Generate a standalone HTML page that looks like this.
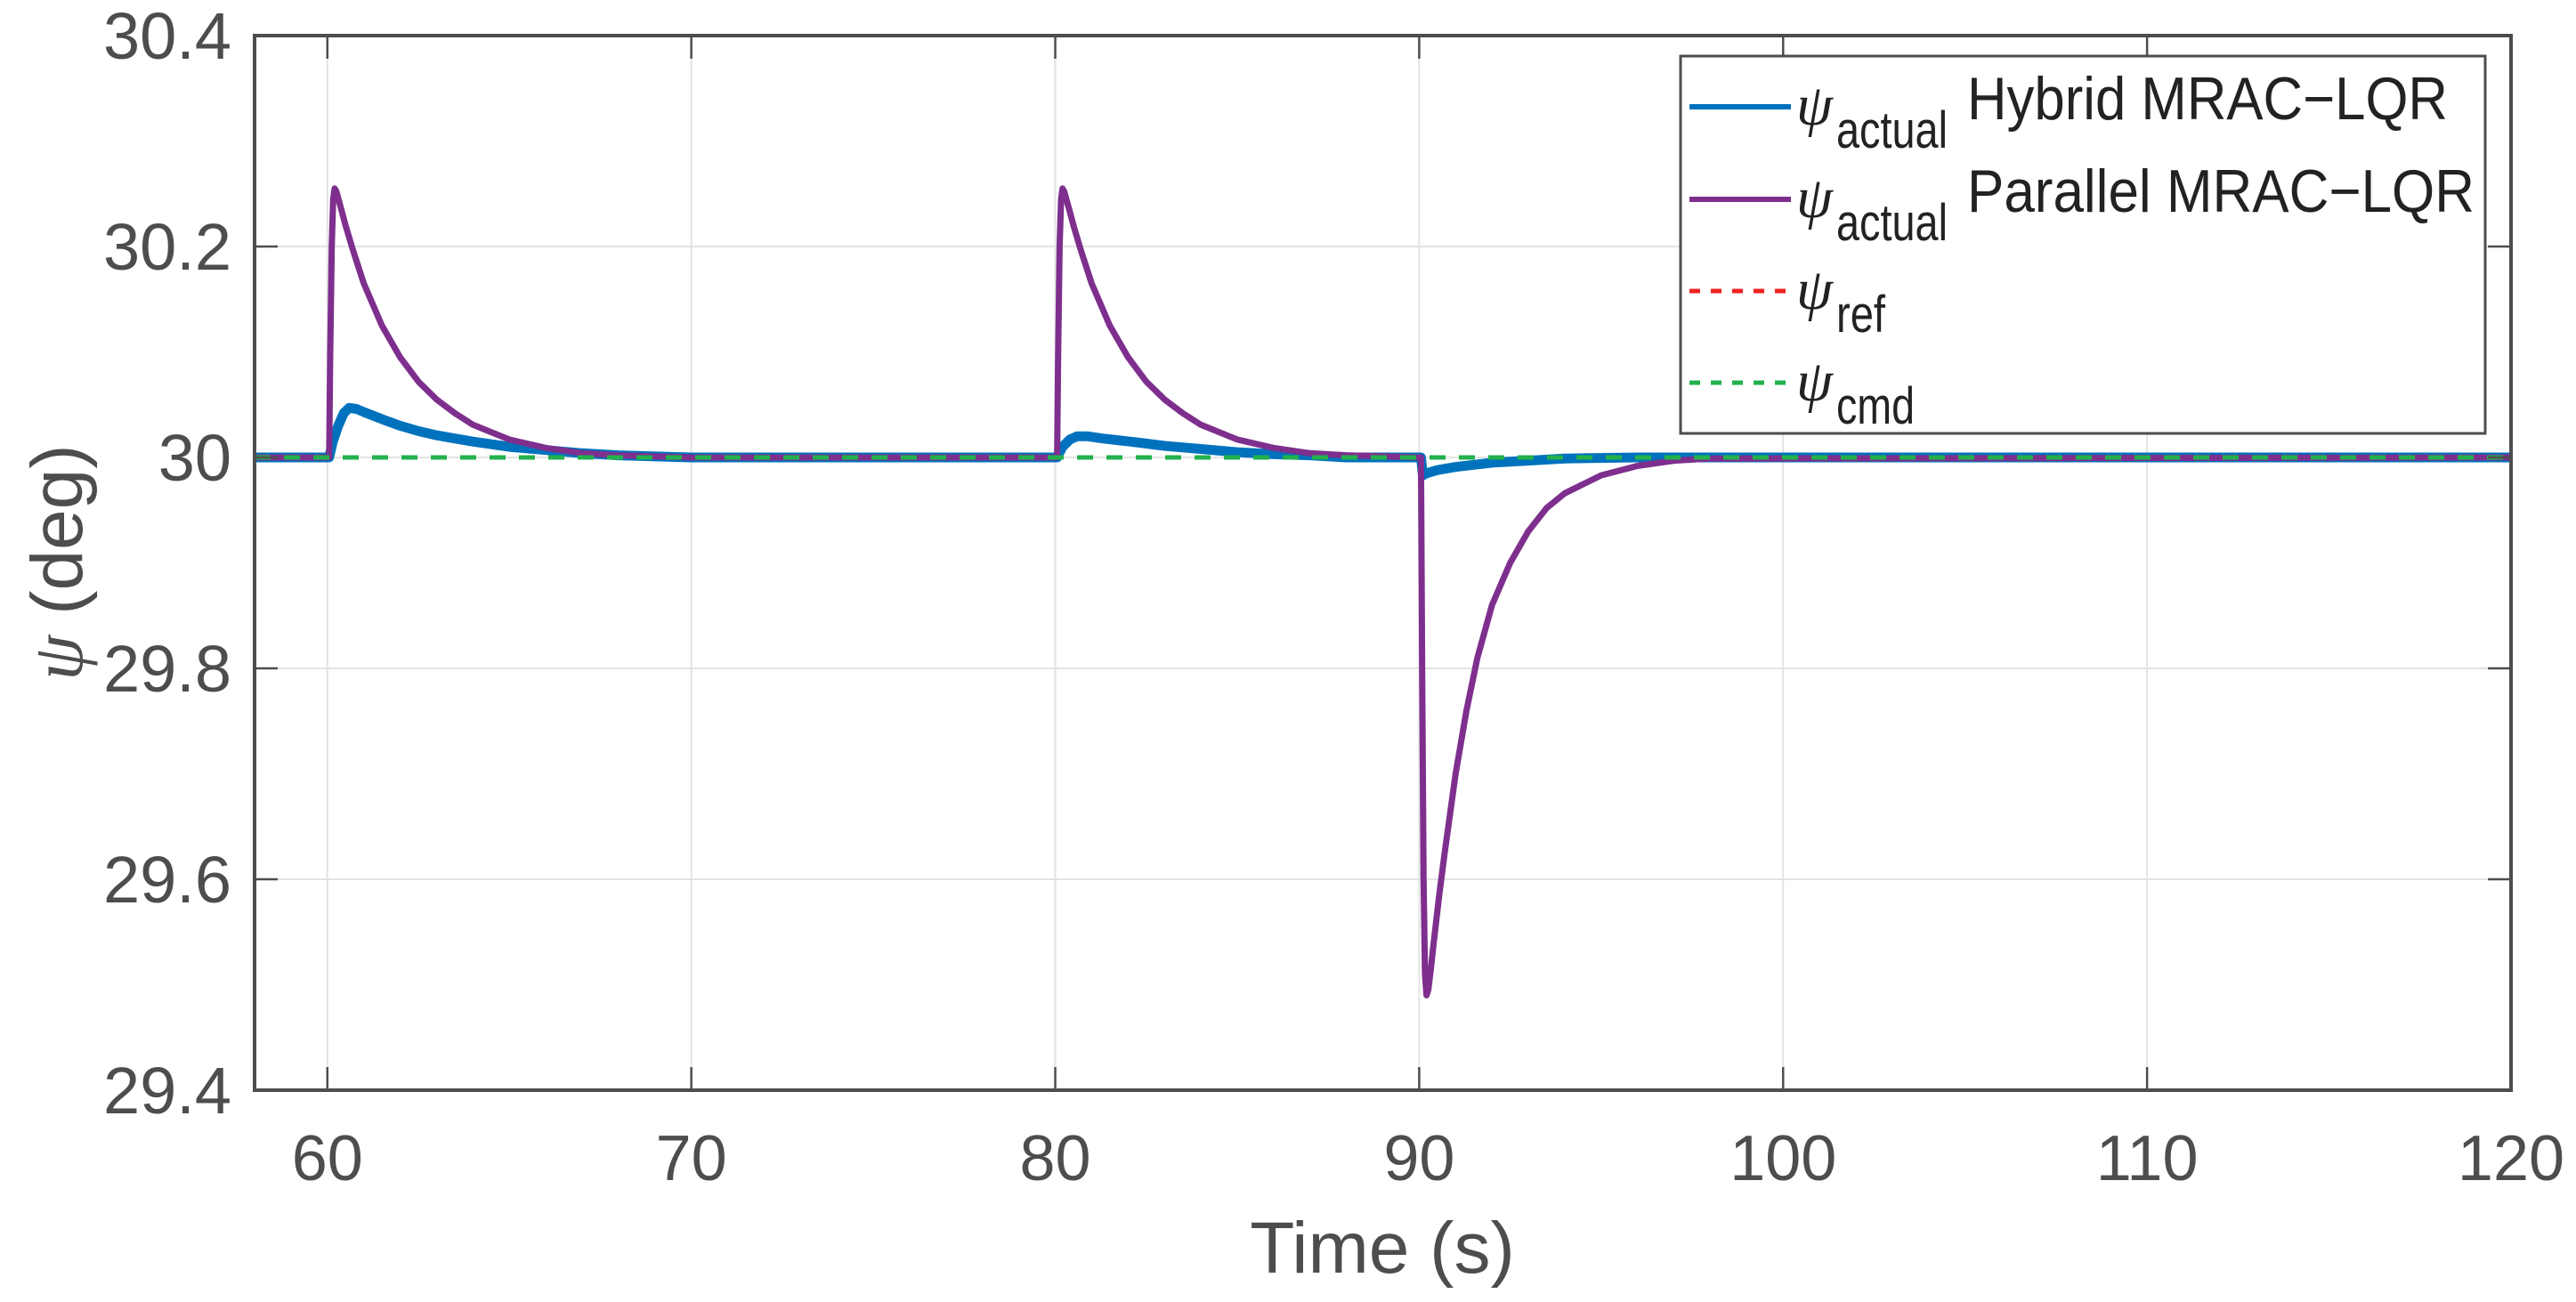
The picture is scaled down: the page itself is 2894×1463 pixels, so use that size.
<!DOCTYPE html>
<html><head><meta charset="utf-8"><style>
html,body{margin:0;padding:0;background:#fff;}
svg{display:block;font-family:"Liberation Sans",Arial,sans-serif;}
</style></head><body>
<svg id="chart" width="2894" height="1463" viewBox="0 0 2894 1463" xmlns="http://www.w3.org/2000/svg">
<g id="grid"></g>
<g id="series"></g>
<g id="axes"></g>
<text x="1553" y="1430" font-size="82" fill="#4d4d4d" text-anchor="middle">Time (s)</text>
<text transform="translate(92,632) rotate(-90)" font-size="82" fill="#4d4d4d" text-anchor="middle"><tspan font-family="Liberation Serif,serif" font-style="italic">ψ</tspan> (deg)</text>
<g id="legend">
<rect x="1888" y="63" width="904" height="424" fill="#fff" stroke="#4d4d4d" stroke-width="3"/>
</g>
</svg>
<script>
const xTicks=[60,70,80,90,100,110,120];
const yTicks=[29.4,29.6,29.8,30,30.2,30.4];
const yTickLabels=["29.4","29.6","29.8","30","30.2","30.4"];
const hybridT=[58,60.05,60.15,60.3,60.45,60.6,60.8,61,61.3,61.6,62,62.5,63,63.5,64,65,66,67,68,70,80.05,80.2,80.4,80.6,80.9,81.3,81.8,82.3,83,84,85,86,87,88,90.05,90.1,90.2,90.5,91,91.5,92,93,94,96,120];
const hybridY=[30,30,30.015,30.03,30.042,30.047,30.046,30.043,30.039,30.035,30.03,30.025,30.021,30.018,30.015,30.01,30.007,30.004,30.002,30,30,30.01,30.017,30.02,30.02,30.018,30.016,30.014,30.011,30.008,30.005,30.003,30.002,30,30,29.983,29.985,29.988,29.991,29.993,29.995,29.997,29.999,30,30];
const parallelT=[58,60.05,60.08,60.12,60.16,60.2,60.25,60.32,60.4,60.5,60.7,61,61.5,62,62.5,63,63.5,64,65,66,67,68,70,80.05,80.08,80.12,80.16,80.2,80.25,80.32,80.4,80.5,80.7,81,81.5,82,82.5,83,83.5,84,85,86,87,88,90,90.05,90.08,90.12,90.16,90.2,90.25,90.32,90.4,90.55,90.7,91,91.3,91.6,92,92.5,93,93.5,94,95,96,97,98,120];
const parallelY=[30,30,30.1,30.2,30.245,30.255,30.252,30.243,30.233,30.22,30.197,30.165,30.125,30.095,30.072,30.055,30.042,30.031,30.017,30.009,30.004,30.002,30,30,30.1,30.2,30.245,30.255,30.252,30.243,30.233,30.22,30.197,30.165,30.125,30.095,30.072,30.055,30.042,30.031,30.017,30.009,30.004,30.002,30,30,29.8,29.6,29.51,29.49,29.495,29.515,29.54,29.585,29.625,29.7,29.76,29.81,29.86,29.9,29.93,29.952,29.966,29.983,29.992,29.997,29.999,30];
const refT=[58,120], refY=[30,30];
const cmdT=[58,120], cmdY=[30,30];
const X0=286,X1=2821,Y0=1225,Y1=40,xmin=58,xmax=120,ymin=29.4,ymax=30.4;
const sx=v=>X0+(v-xmin)/(xmax-xmin)*(X1-X0);
const sy=v=>Y0-(v-ymin)/(ymax-ymin)*(Y0-Y1);
const NS="http://www.w3.org/2000/svg";
function mk(tag,attrs,parent){const e=document.createElementNS(NS,tag);for(const k in attrs)e.setAttribute(k,attrs[k]);parent.appendChild(e);return e;}
const grid=document.getElementById('grid'),axes=document.getElementById('axes'),series=document.getElementById('series'),legend=document.getElementById('legend');
xTicks.forEach(t=>{
 const g=mk('line',{x1:sx(t),x2:sx(t),y1:Y1,y2:Y0,stroke:'#e3e3e3','stroke-width':2},grid);
 
 
 const a=mk('line',{x1:sx(t),x2:sx(t),y1:Y0,y2:Y0-26,stroke:'#4d4d4d','stroke-width':2.5},axes);
 
 
 const b=mk('line',{x1:sx(t),x2:sx(t),y1:Y1,y2:Y1+26,stroke:'#4d4d4d','stroke-width':2.5},axes);
 
 
 const l=mk('text',{x:sx(t),y:1326,'font-size':72,fill:'#4d4d4d','text-anchor':'middle'},axes);
 l.textContent=String(t);
 
 
});
yTicks.forEach((t,i)=>{
 const g=mk('line',{x1:X0,x2:X1,y1:sy(t),y2:sy(t),stroke:'#e3e3e3','stroke-width':2},grid);
 
 
 const a=mk('line',{x1:X0,x2:X0+26,y1:sy(t),y2:sy(t),stroke:'#4d4d4d','stroke-width':2.5},axes);
 
 
 const b=mk('line',{x1:X1,x2:X1-26,y1:sy(t),y2:sy(t),stroke:'#4d4d4d','stroke-width':2.5},axes);
 
 
 const l=mk('text',{x:260,y:sy(t)+26,'font-size':74,fill:'#4d4d4d','text-anchor':'end'},axes);
 l.textContent=yTickLabels[i];
 
 
});
const frame=mk('rect',{x:X0,y:Y1,width:X1-X0,height:Y0-Y1,fill:'none',stroke:'#4d4d4d','stroke-width':4},axes);


function pts(T,Y){return T.map((t,i)=>sx(t).toFixed(1)+','+sy(Y[i]).toFixed(1)).join(' ');}
const pRef=mk('polyline',{points:pts(refT,refY),fill:'none',stroke:'#ee2222','stroke-width':5,'stroke-dasharray':'18 15'},series);


const pHyb=mk('polyline',{points:pts(hybridT,hybridY),fill:'none',stroke:'#0072bd','stroke-width':11,'stroke-linejoin':'round'},series);


const pPar=mk('polyline',{points:pts(parallelT,parallelY),fill:'none',stroke:'#7e2f8e','stroke-width':7,'stroke-linejoin':'round'},series);


const pCmd=mk('polyline',{points:pts(cmdT,cmdY),fill:'none',stroke:'#22b14c','stroke-width':5,'stroke-dasharray':'18 15'},series);


const entries=[['#0072bd','','actual','Hybrid MRAC−LQR',120,540],['#7e2f8e','','actual','Parallel MRAC−LQR',224,570],['#ee2222','12 12','ref','',327,0],['#22b14c','12 12','cmd','',430,0]];
entries.forEach(e=>{
 const g=mk('g',{},legend);
 
 
 const ln=mk('line',{x1:1898,x2:2012,y1:e[4],y2:e[4],stroke:e[0],'stroke-width':e[1]?5:6,'stroke-dasharray':e[1]||'none'},g);
 
 
 const t=mk('text',{x:2018,y:e[4]+20,'font-size':66,fill:'#222'},g);
 
 
 t.innerHTML='<tspan font-family="Liberation Serif,serif" font-style="italic">ψ</tspan><tspan x="2063" dy="26" font-size="58" textLength="'+(e[2]==='actual'?125:(e[2]==='ref'?55:88))+'" lengthAdjust="spacingAndGlyphs">'+e[2]+'</tspan>';
 if(e[3]){const s=mk('text',{x:2210,y:e[4]+14,'font-size':68,fill:'#222',textLength:e[5],lengthAdjust:'spacingAndGlyphs'},g);
  s.textContent=e[3];
  
  }
});
</script>
</body></html>
